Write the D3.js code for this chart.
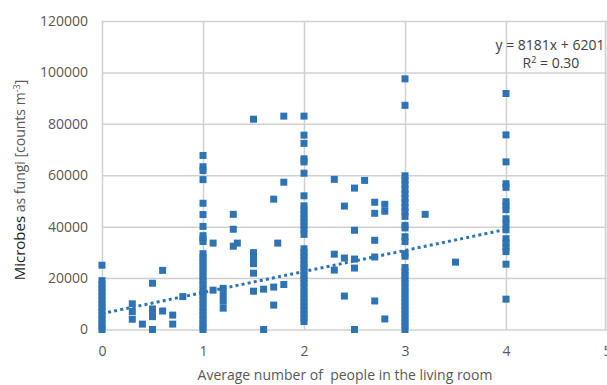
<!DOCTYPE html>
<html>
<head>
<meta charset="utf-8">
<script src="https://cdn.jsdelivr.net/npm/d3@7/dist/d3.min.js"></script>
<style>
  html, body { margin: 0; padding: 0; background: #ffffff; }
  svg { display: block; font-family: "Open Sans", "Noto Sans", sans-serif; }
</style>
</head>
<body>
<svg id="chart" width="607" height="385"></svg>
<script>
// Airborne fungi counts against the average number of people in the living room.
// Homes sharing the same whole-number occupancy form the dense columns.
const column0 = [25000, 19000, 17500, 16000, 14500, 13000, 11500, 10000, 8500, 7000, 5500, 4000, 2500, 1000, 0];
const column1 = [67700, 63300, 61800, 58300, 49100, 44700, 40100, 36500, 35300, 34200,
  29500, 28000, 26500, 25000, 23500, 22000, 20500, 19000, 17500, 16000, 14500, 13000,
  11500, 10000, 8500, 7000, 5500, 4000, 2500, 1000, 0];
const column2 = [83000, 75600, 72400, 66400, 65200, 60800, 52000, 48100, 46500, 45000,
  43500, 42000, 40500, 39000, 37000, 31400, 30000, 28500, 27000, 25500, 24000, 22500,
  21000, 19500, 18000, 16500, 15000, 13500, 12000, 10500, 9000, 7500, 6000, 4500, 3100];
const column3 = [97500, 87200, 59800, 58000, 56300, 54500, 52800, 51000, 49300, 47500,
  45800, 44000, 40500, 39500, 36100, 34200, 29500, 28500, 24100, 22500, 21000, 19500,
  18000, 16500, 15000, 13500, 12000, 10500, 9000, 7500, 6000, 4500, 3000, 1500, 0];
const column4 = [91800, 75700, 65200, 56700, 55300, 49700, 48100, 46600, 43100, 41000,
  38800, 35300, 33600, 32000, 30300, 25400, 11800];

// Homes with a fractional average occupancy: [people, counts]
const scatterPoints = [
  [0.3, 10000], [0.3, 7000], [0.3, 4000], [0.4, 2100],
  [0.5, 18000], [0.5, 8000], [0.5, 6500], [0.5, 5000], [0.5, 0],
  [0.6, 23000], [0.6, 7200], [0.7, 5600], [0.7, 2100], [0.8, 12800],
  [1.1, 33600], [1.1, 15300],
  [1.2, 16000], [1.2, 13500], [1.2, 11000], [1.2, 8300],
  [1.3, 44800], [1.3, 39000], [1.3, 32400], [1.34, 33600],
  [1.5, 81800], [1.5, 29900], [1.5, 28000], [1.5, 25600], [1.5, 21900], [1.5, 14900],
  [1.6, 15700], [1.6, 0],
  [1.7, 50700], [1.7, 16500], [1.7, 9500], [1.74, 33600],
  [1.8, 83000], [1.8, 57300], [1.8, 17500],
  [2.3, 58400], [2.3, 29300], [2.3, 23100],
  [2.4, 48000], [2.4, 27800], [2.4, 13000],
  [2.5, 55000], [2.5, 38600], [2.5, 27400], [2.5, 23900], [2.5, 0],
  [2.6, 58000],
  [2.7, 49500], [2.7, 45200], [2.7, 34700], [2.7, 28200], [2.7, 11100],
  [2.8, 48700], [2.8, 46000], [2.8, 4100],
  [3.2, 44800], [3.5, 26200]
];

// Linear fit printed on the chart
const trendSlope = 8181;
const trendIntercept = 6201;
const trendRange = [0, 4];
const rSquared = "0.30";

const xTicks = [0, 1, 2, 3, 4, 5];
const yTicks = [0, 20000, 40000, 60000, 80000, 100000, 120000];

const points = [
  ...column0.map(v => [0, v]),
  ...column1.map(v => [1, v]),
  ...column2.map(v => [2, v]),
  ...column3.map(v => [3, v]),
  ...column4.map(v => [4, v]),
  ...scatterPoints
];

const svg = d3.select("#chart");
const plotLeft = 102, plotRight = 607, plotTop = 21, plotBottom = 329.5;
const x = d3.scaleLinear().domain([0, 5]).range([plotLeft, plotRight]);
const y = d3.scaleLinear().domain([0, 120000]).range([plotBottom, plotTop]);

const blue = "#2e74b5";
const gridColor = "#d0d0d0";
const labelColor = "#595959";

// Horizontal gridlines + y tick labels
const yAxis = svg.append("g")
  .attr("transform", `translate(${plotLeft},0)`)
  .call(d3.axisLeft(y).tickValues(yTicks).tickFormat(d3.format("d"))
    .tickSize(-(plotRight - plotLeft)).tickPadding(14));
yAxis.select(".domain").remove();
yAxis.selectAll(".tick line").attr("stroke", gridColor).attr("stroke-width", 1.5);
yAxis.selectAll(".tick text").attr("fill", labelColor).attr("font-size", "14px")
  .attr("font-family", "'Open Sans', sans-serif");

// Vertical gridlines + x tick labels
const xAxis = svg.append("g")
  .attr("transform", `translate(0,${plotBottom})`)
  .call(d3.axisBottom(x).tickValues(xTicks).tickFormat(d3.format("d"))
    .tickSize(-(plotBottom - plotTop)).tickPadding(17));
xAxis.select(".domain").remove();
xAxis.selectAll(".tick line").attr("stroke", gridColor).attr("stroke-width", 1.5);
xAxis.selectAll(".tick text").attr("fill", labelColor).attr("font-size", "14px")
  .attr("font-family", "'Open Sans', sans-serif");

// Right frame edge
svg.append("line")
  .attr("x1", plotRight - 1.5).attr("x2", plotRight - 1.5)
  .attr("y1", plotTop).attr("y2", plotBottom)
  .attr("stroke", gridColor).attr("stroke-width", 1.5);

// Markers
svg.append("g").selectAll("rect")
  .data(points)
  .join("rect")
  .attr("x", d => x(d[0]) - 3.5)
  .attr("y", d => y(d[1]) - 3.5)
  .attr("width", 7)
  .attr("height", 7)
  .attr("fill", blue);

// Dotted linear trendline
svg.append("line")
  .attr("x1", x(trendRange[0])).attr("y1", y(trendSlope * trendRange[0] + trendIntercept))
  .attr("x2", x(trendRange[1])).attr("y2", y(trendSlope * trendRange[1] + trendIntercept))
  .attr("stroke", blue).attr("stroke-width", 3)
  .attr("stroke-dasharray", "3,3.2");

// Fit equation
const eq = svg.append("g").attr("fill", "#404040").attr("font-size", "14px");
eq.append("text").attr("x", 550).attr("y", 50).attr("text-anchor", "middle")
  .text(`y = ${trendSlope}x + ${trendIntercept}`);
const r2 = eq.append("text").attr("x", 551).attr("y", 68).attr("text-anchor", "middle");
r2.append("tspan").text("R");
r2.append("tspan").attr("dy", -5).attr("font-size", "9px").text("2");
r2.append("tspan").attr("dy", 5).text(` = ${rSquared}`);

// Axis titles
svg.append("text")
  .attr("x", 345).attr("y", 380)
  .attr("text-anchor", "middle")
  .attr("fill", labelColor).attr("font-size", "14px")
  .style("white-space", "pre")
  .text("Average number of  people in the living room");

const yTitle = svg.append("text")
  .attr("transform", "translate(25,180) rotate(-90)")
  .attr("text-anchor", "middle")
  .attr("font-size", "14px")
  .style("white-space", "pre");
yTitle.append("tspan").attr("fill", "#1a1a1a").attr("font-size", "15px").text("Microbes");
yTitle.append("tspan").attr("fill", labelColor).text(" as fungi [counts m");
yTitle.append("tspan").attr("fill", labelColor).attr("font-size", "9px").attr("dy", -5).text("-3");
yTitle.append("tspan").attr("fill", labelColor).attr("dy", 5).text("]");
</script>
</body>
</html>
